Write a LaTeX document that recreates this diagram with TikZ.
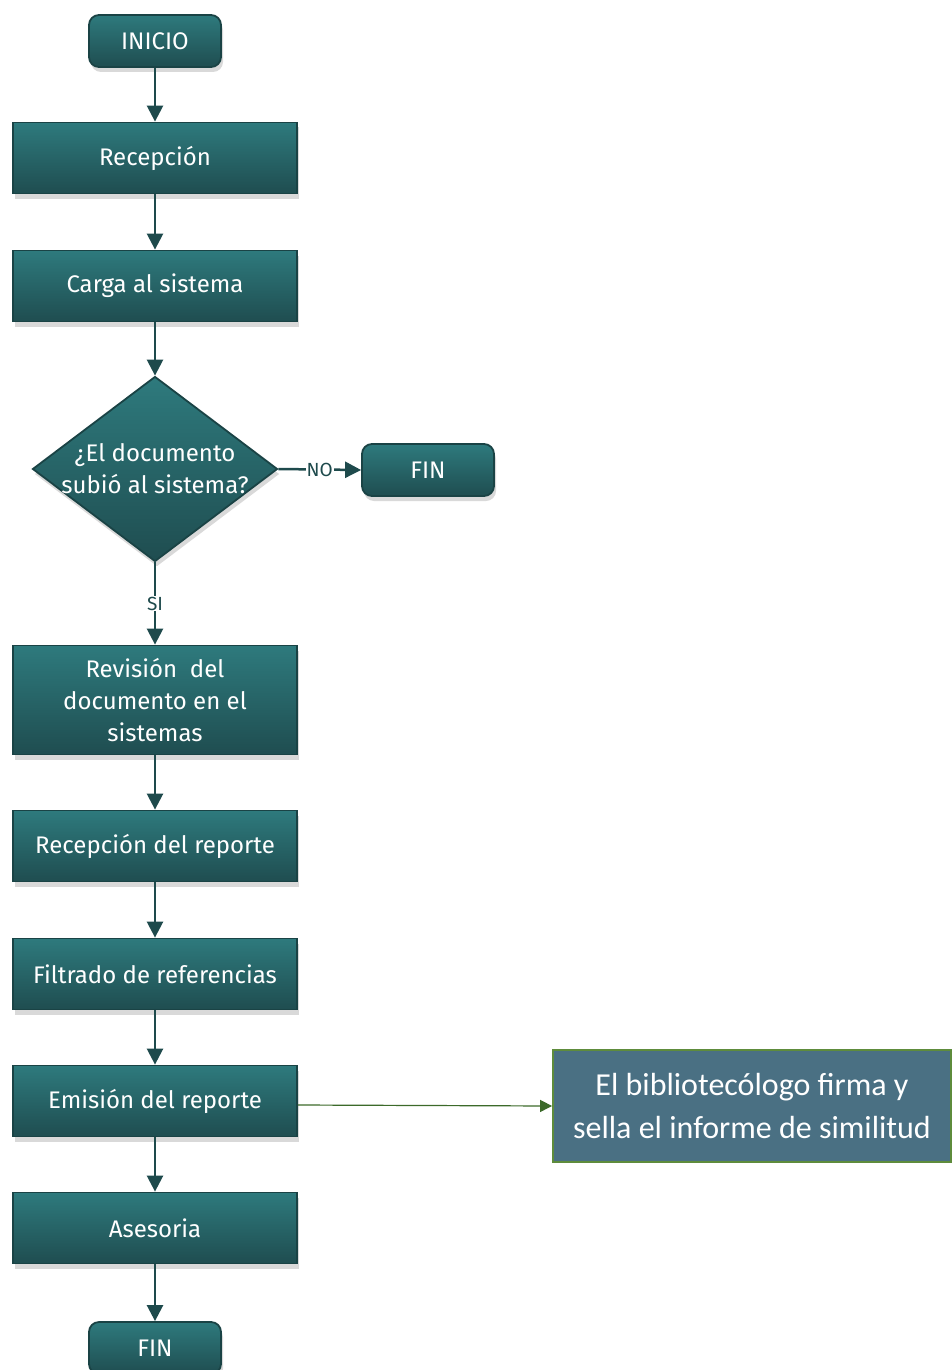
\documentclass[tikz,border=0pt]{standalone}
\usepackage{fontspec}
\setmainfont{Fira Sans}
\newfontfamily\calib{Carlito}
\usetikzlibrary{shapes.geometric,arrows.meta,shadows,positioning}
\definecolor{boxtop}{HTML}{2E7A7D}
\definecolor{boxbot}{HTML}{1F4D50}
\definecolor{boxline}{HTML}{1A4345}
\definecolor{arrowc}{HTML}{1E4A4C}
\definecolor{rfill}{HTML}{4A7083}
\definecolor{rline}{HTML}{5E8C3C}
\definecolor{garrow}{HTML}{3C6A2A}
\tikzset{
  x=1pt,y=-1pt,
  base/.style={draw=boxline,line width=1.8pt,top color=boxtop,bottom color=boxbot,
     text=white,font=\fontsize{24}{32}\selectfont,align=center,
     drop shadow={shadow xshift=2pt,shadow yshift=-5pt,opacity=0.25,fill=black!60}},
  procbox/.style={base,minimum width=284pt,minimum height=71pt,inner sep=0pt},
  termbox/.style={base,rounded corners=10pt,minimum width=132pt,minimum height=52pt,inner sep=0pt},
  decbox/.style={base,diamond,minimum width=245pt,minimum height=185pt,inner sep=0pt},
  dectext/.style={text=white,font=\fontsize{24}{32}\selectfont,align=center,inner sep=0pt},
  conn/.style={draw=arrowc,line width=2.5pt,-{Triangle[length=16pt,width=16pt]}},
  lbl/.style={fill=white,text=arrowc,inner sep=1pt,font=\fontsize{19}{22}\selectfont}
}
\begin{document}
\begin{tikzpicture}
\useasboundingbox (0,0) rectangle (951,1370);
\node[termbox] (inicio) at (155,41) {INICIO};
\node[procbox] (recep) at (155,158) {Recepción};
\node[procbox] (carga) at (155,286) {Carga al sistema};
\node[decbox] (dec) at (155,469) {};
\node[dectext] (dect) at (155,469) {¿El documento\\subió al sistema?};
\node[termbox] (fin1) at (428,470) {FIN};
\node[procbox,minimum height=109pt] (rev) at (155,700) {Revisión\ \ del\\documento en el\\sistemas};
\node[procbox] (rrep) at (155,846) {Recepción del reporte};
\node[procbox] (filt) at (155,974) {Filtrado de referencias};
\node[procbox] (emis) at (155,1101) {Emisión del reporte};
\node[procbox] (ases) at (155,1228) {Asesoria};
\node[termbox] (fin2) at (155,1348) {FIN};
\node[draw=rline,line width=1.8pt,fill=rfill,text=white,minimum width=398pt,minimum height=112pt,
      align=center,inner sep=0pt,font=\calib\fontsize{32}{43}\selectfont] (firma) at (752,1106)
      {El bibliotecólogo firma y\\sella el informe de similitud};
\draw[conn] (inicio) -- (recep);
\draw[conn] (recep) -- (carga);
\draw[conn] (carga) -- (dec.north);
\draw[conn] (dec.east) -- node[lbl,pos=0.5]{NO} (fin1.west);
\draw[conn] (dec.south) -- node[lbl,pos=0.5]{SI} (rev.north);
\draw[conn] (rev) -- (rrep);
\draw[conn] (rrep) -- (filt);
\draw[conn] (filt) -- (emis);
\draw[conn] (emis) -- (ases);
\draw[conn] (ases) -- (fin2);
\draw[draw=garrow,line width=1.2pt,-{Triangle[length=12pt,width=12pt]}] ([yshift=-4pt]emis.east) -- (firma.west);
\end{tikzpicture}
\end{document}
